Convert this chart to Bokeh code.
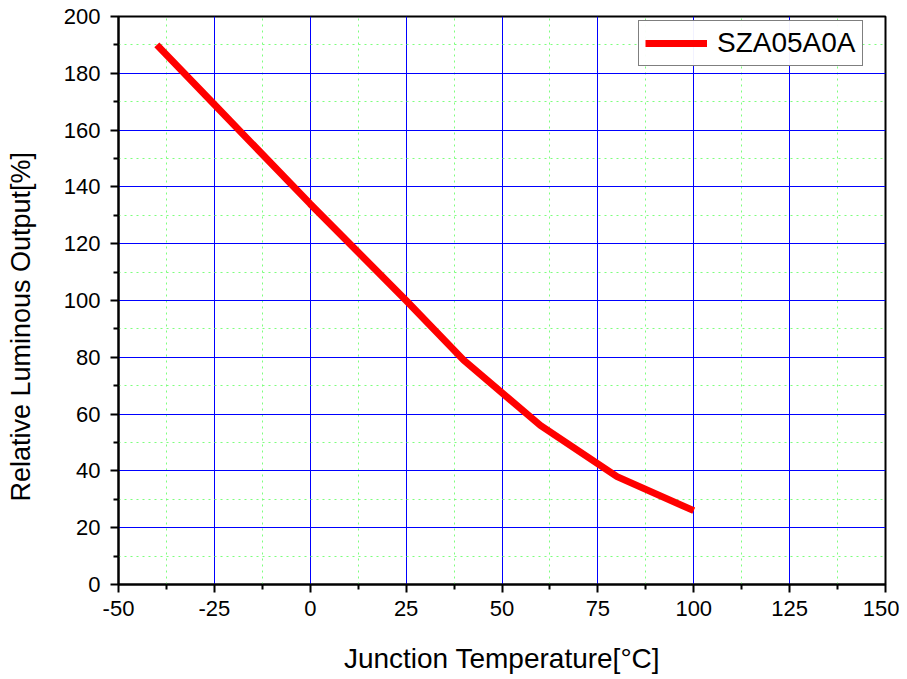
from bokeh.plotting import figure
from bokeh.models import FixedTicker, Range1d, Legend, LegendItem, PrintfTickFormatter
from bokeh.embed import file_html
from bokeh.resources import INLINE

temp = [-40, -25, 0, 25, 40, 60, 80, 100]
lum = [190, 169, 134, 100, 79, 56, 38, 26]
series_name = "SZA05A0A"
x_ticks = [-50, -25, 0, 25, 50, 75, 100, 125, 150]
y_ticks = [0, 20, 40, 60, 80, 100, 120, 140, 160, 180, 200]

p = figure(width=899, height=678, output_backend="svg", toolbar_location=None,
           x_range=Range1d(-50, 150), y_range=Range1d(0, 200),
           min_border_left=118, min_border_top=16, min_border_right=14, min_border_bottom=94)

r = p.line(temp, lum, line_color="#ff0000", line_width=7, line_cap="butt")

for ax, ticks in ((p.xaxis[0], x_ticks), (p.yaxis[0], y_ticks)):
    ax.ticker = FixedTicker(ticks=ticks,
                            minor_ticks=[(a + b) / 2 for a, b in zip(ticks[:-1], ticks[1:])])
    ax.formatter = PrintfTickFormatter(format="%d")
    ax.axis_line_width = 2
    ax.axis_line_color = "black"
    ax.major_tick_line_width = 2
    ax.minor_tick_line_width = 2
    ax.major_tick_out = 8
    ax.major_tick_in = 0
    ax.minor_tick_out = 5
    ax.minor_tick_in = 0
    ax.major_label_text_font = "Liberation Sans"
    ax.major_label_text_font_size = "22px"
    ax.major_label_text_color = "black"
    ax.axis_label_text_font = "Liberation Sans"
    ax.axis_label_text_font_style = "normal"
    ax.axis_label_text_color = "black"

p.xaxis.axis_label_text_font_size = "28px"
p.yaxis.axis_label_text_font_size = "27px"
p.xaxis.axis_label = "Junction Temperature[°C]"
p.yaxis.axis_label = "Relative Luminous Output[%]" + "\u00a0" * 7
p.xaxis.axis_label_standoff = 24
p.yaxis.axis_label_standoff = 25
p.xaxis.major_label_standoff = 8
p.yaxis.major_label_standoff = 10

for g in (p.xgrid[0], p.ygrid[0]):
    g.grid_line_color = "#0000ff"
    g.grid_line_width = 1
    g.minor_grid_line_color = "#7dff7d"
    g.minor_grid_line_dash = "2 4"
    g.minor_grid_line_width = 1

p.outline_line_color = "black"
p.outline_line_width = 2

legend = Legend(items=[LegendItem(label=series_name, renderers=[r])],
                location=(520, 518))
legend.glyph_width = 62
legend.glyph_height = 20
legend.label_height = 26
legend.label_text_font = "Liberation Sans"
legend.label_text_font_size = "28px"
legend.label_text_color = "black"
legend.border_line_color = "black"
legend.border_line_width = 1
legend.padding = 6
legend.margin = 0
legend.spacing = 0
legend.label_standoff = 10
p.add_layout(legend)

open("out.html", "w").write(file_html(p, INLINE))
